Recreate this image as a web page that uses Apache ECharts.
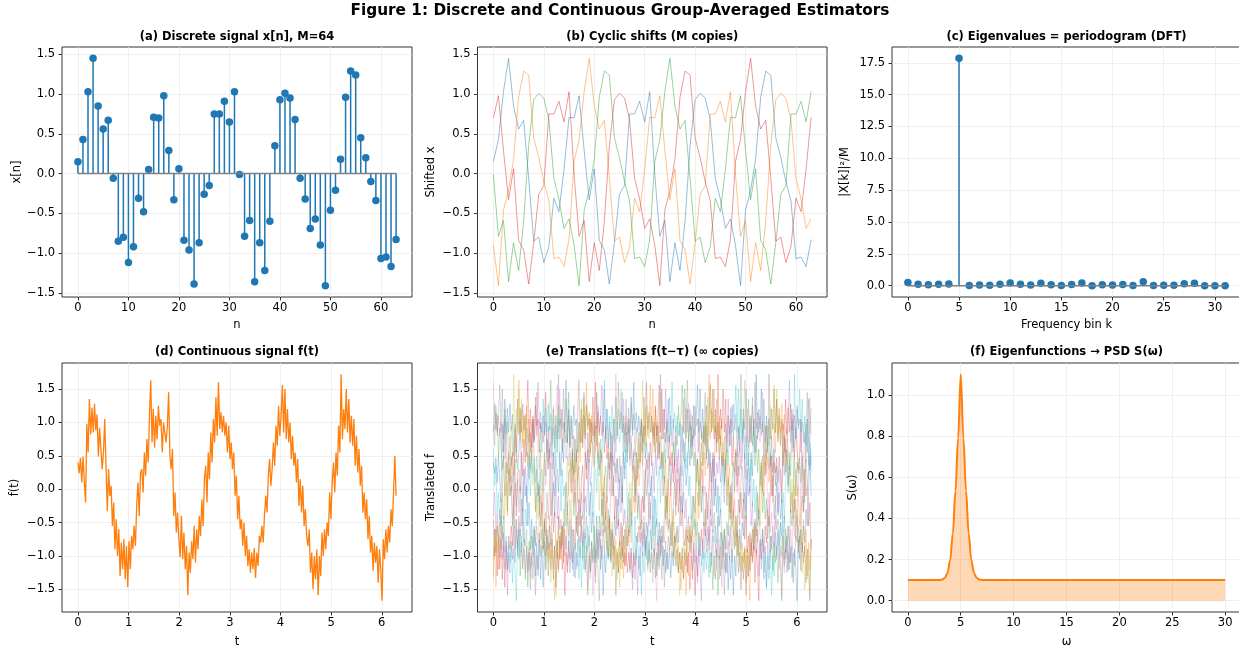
<!DOCTYPE html>
<html><head><meta charset="utf-8">
<script src="https://cdn.jsdelivr.net/npm/echarts@6/dist/echarts.min.js"></script>
<style>html,body{margin:0;padding:0;background:#fff}#c{width:1239px;height:649px}</style>
</head><body><div id="c"></div>
<script>
// ---------- data ----------
const X_N = [0.15,0.43,1.03,1.45,0.85,0.56,0.67,-0.06,-0.85,-0.80,-1.12,-0.92,-0.31,-0.48,0.05,0.71,0.70,0.98,0.29,-0.33,0.06,-0.84,-0.96,-1.39,-0.87,-0.26,-0.15,0.75,0.75,0.91,0.65,1.03,-0.01,-0.79,-0.59,-1.36,-0.87,-1.22,-0.60,0.35,0.93,1.01,0.95,0.68,-0.06,-0.32,-0.69,-0.57,-0.90,-1.41,-0.46,-0.21,0.18,0.96,1.29,1.24,0.45,0.20,-0.10,-0.34,-1.07,-1.05,-1.17,-0.83];
const CYCLIC_SHIFTS = [0,16,32,48];
const PERIODOGRAM = [0.24,0.10,0.07,0.10,0.12,17.85,0.02,0.05,0.03,0.10,0.20,0.10,0.05,0.18,0.06,0.02,0.08,0.20,0.00,0.07,0.05,0.08,0.02,0.31,0.02,0.03,0.03,0.15,0.18,0.00,0.00,0.00];
const T_MAX = 6.2832;
const F_T = [
0.40,0.24,0.47,0.10,0.49,0.12,-0.20,0.98,0.55,1.35,0.82,1.22,0.85,1.28,0.88,1.12,0.49,0.92,0.60,0.30,0.55,1.05,0.35,-0.33,0.30,-0.10,0.05,-0.55,-0.20,-0.90,-0.45,-1.00,-0.60,-1.30,-0.80,-1.20,-0.75,-1.35,-0.85,-1.47,-0.78,-1.20,-0.70,-0.90,-0.55,-0.85,-0.25,0.10,-0.40,0.25,
0.30,-0.05,0.55,0.20,0.75,0.40,1.10,1.63,0.70,1.20,0.62,1.10,0.75,1.25,0.95,1.05,0.55,1.00,0.85,0.70,0.95,1.45,0.50,0.30,0.60,-0.40,-0.05,-0.65,-0.35,-0.75,-1.02,-0.40,-1.05,-0.65,-1.20,-0.85,-1.59,-0.95,-1.25,-0.78,-1.05,-0.55,-1.10,-0.60,-0.90,-0.40,-0.70,-0.15,-0.55,0.15,
0.35,-0.20,0.55,0.15,0.85,0.40,1.05,0.70,1.38,0.80,1.60,0.90,1.15,0.85,1.10,0.80,1.00,0.55,0.95,0.45,0.70,0.30,0.55,-0.10,0.20,-0.45,-0.10,-0.60,-0.45,-0.85,-0.50,-1.00,-0.70,-1.15,-0.90,-1.25,-0.95,-1.20,-0.88,-1.33,-0.95,-1.15,-0.70,-0.80,-0.55,-0.80,-0.40,-0.10,-0.35,0.20,
0.45,0.05,0.30,0.70,0.35,0.95,0.65,1.25,0.80,1.10,1.56,0.85,1.50,0.75,1.20,0.70,1.00,0.45,0.80,0.35,0.55,0.10,0.45,-0.25,0.15,-0.35,0.05,-0.55,-0.30,-0.70,-0.85,-0.60,-1.25,-0.95,-1.50,-1.00,-1.35,-0.90,-1.59,-1.00,-1.30,-0.65,-1.00,-0.60,-0.90,-0.50,-0.70,-0.05,-0.45,0.10,
0.40,-0.05,0.55,0.20,0.95,0.55,1.72,0.75,1.20,0.90,1.50,0.85,1.35,0.70,1.10,0.65,1.05,0.35,0.80,0.25,0.60,0.05,0.35,-0.35,-0.05,-0.45,-0.15,-0.75,-0.40,-0.95,-0.70,-1.22,-0.80,-1.10,-0.85,-1.40,-0.90,-1.20,-1.67,-0.75,-1.05,-0.60,-0.95,-0.55,-0.80,-0.30,-0.55,-0.05,0.50,-0.10];
const TAU_SHIFTS = [0,213,238,220,175,10,140,95,60,30];
const PSD_OMEGA = [0,2.5,3,3.25,3.5,3.75,4,4.25,4.5,4.75,5,5.25,5.5,5.75,6,6.25,6.5,6.75,7,7.5,30];
const PSD_S = [0.1,0.1,0.1005,0.103,0.111,0.135,0.198,0.326,0.533,0.790,1.1,0.790,0.533,0.326,0.198,0.135,0.111,0.103,0.1005,0.1,0.1];

const TICKS_N = [0,10,20,30,40,50,60];
const TICKS_K = [0,5,10,15,20,25,30];
const TICKS_T = [0,1,2,3,4,5,6];
const TICKS_W = [0,5,10,15,20,25,30];
const TICKS_X = [-1.5,-1.0,-0.5,0.0,0.5,1.0,1.5];
const TICKS_P = [0,2.5,5,7.5,10,12.5,15,17.5];
const TICKS_S = [0,0.2,0.4,0.6,0.8,1.0];

const TAB10 = ['#1f77b4','#ff7f0e','#2ca02c','#d62728','#9467bd','#8c564b','#e377c2','#7f7f7f','#bcbd22','#17becf'];

// ---------- layout ----------
const COLS = [{left:62,w:350},{left:477.5,w:349.5},{left:892,w:349}];
const ROWS = [{top:47,h:250},{top:363,h:249}];
const FONT = 'DejaVu Sans';
const FS = 11.5;

function fmt(d){return v=>{const s=Math.abs(v).toFixed(d);return (v<0&&parseFloat(s)!==0?'\u2212':'')+s;};}
const grids=[];
for(let r=0;r<2;r++)for(let c=0;c<3;c++){
  grids.push({left:COLS[c].left,top:ROWS[r].top,width:COLS[c].w,height:ROWS[r].h,
    show:true,borderColor:'#000',borderWidth:0.8,backgroundColor:'transparent',
    containLabel:false,outerBoundsMode:'none'});
}
function axis(gi,min,max,ticks,dec,name,nameGap,isY){
  return {type:'value',gridIndex:gi,min:min,max:max,position:isY?'left':'bottom',
    name:name,nameLocation:'middle',nameGap:nameGap,
    nameTextStyle:{fontFamily:FONT,fontSize:FS,color:'#000'},
    axisLine:{show:false,onZero:false},
    axisTick:{show:true,customValues:ticks,length:3.5,lineStyle:{color:'#000',width:0.8}},
    axisLabel:{customValues:ticks,formatter:fmt(dec),fontFamily:FONT,fontSize:FS,color:'#000',margin:isY?7:5},
    splitLine:{show:true,lineStyle:{color:'#ebebeb',width:0.8}}};
}
const xAxes=[
  axis(0,-3.15,66.15,TICKS_N,0,'n',22,false),
  axis(1,-3.15,66.15,TICKS_N,0,'n',22,false),
  axis(2,-1.55,32.55,TICKS_K,0,'Frequency bin k',22,false),
  axis(3,-0.31416,6.5973,TICKS_T,0,'t',24,false),
  axis(4,-0.31416,6.5973,TICKS_T,0,'t',24,false),
  axis(5,-1.5,31.5,TICKS_W,0,'\u03c9',24,false)];
const yAxes=[
  axis(0,-1.553,1.593,TICKS_X,1,'x[n]',39,true),
  axis(1,-1.553,1.593,TICKS_X,1,'Shifted x',40.5,true),
  axis(2,-0.8925,18.74,TICKS_P,1,'|X[k]|\u00b2/M',41,true),
  axis(3,-1.84,1.89,TICKS_X,1,'f(t)',40.5,true),
  axis(4,-1.84,1.89,TICKS_X,1,'Translated f',40.5,true),
  axis(5,-0.055,1.155,TICKS_S,1,'S(\u03c9)',33,true)];

const series=[];
function stems(gi,vals){
  series.push({type:'custom',xAxisIndex:gi,yAxisIndex:gi,z:2,
    data:vals.map((v,i)=>[i,v]),
    renderItem:(p,api)=>{const a=api.coord([api.value(0),0]),b=api.coord([api.value(0),api.value(1)]);
      return {type:'line',shape:{x1:a[0],y1:a[1],x2:b[0],y2:b[1]},style:{stroke:'#1f77b4',lineWidth:1.5}};}});
  series.push({type:'scatter',xAxisIndex:gi,yAxisIndex:gi,z:3,symbolSize:7.5,
    itemStyle:{color:'#1f77b4',opacity:1},data:vals.map((v,i)=>[i,v])});
  series.push({type:'line',xAxisIndex:gi,yAxisIndex:gi,z:4,showSymbol:false,
    lineStyle:{color:'#808080',width:1.5},data:[[0,0],[vals.length-1,0]]});
}
stems(0,X_N);
const M=X_N.length;
CYCLIC_SHIFTS.forEach((s,k)=>{
  series.push({type:'line',xAxisIndex:1,yAxisIndex:1,showSymbol:false,
    lineStyle:{color:TAB10[k],width:0.8,opacity:0.6},
    data:X_N.map((_,i)=>[i,X_N[((i-s)%M+M)%M]])});
});
stems(2,PERIODOGRAM);
const N=F_T.length;
const tAt=i=>T_MAX*i/(N-1);
series.push({type:'line',xAxisIndex:3,yAxisIndex:3,showSymbol:false,
  lineStyle:{color:'#ff7f0e',width:1.3},data:F_T.map((v,i)=>[tAt(i),v])});
TAU_SHIFTS.forEach((s,k)=>{
  series.push({type:'line',xAxisIndex:4,yAxisIndex:4,showSymbol:false,
    lineStyle:{color:TAB10[k%10],width:0.9,opacity:0.32},
    data:F_T.map((_,i)=>[tAt(i),F_T[((i-s)%N+N)%N]])});
});
series.push({type:'line',xAxisIndex:5,yAxisIndex:5,showSymbol:false,smooth:0.35,smoothMonotone:'x',
  lineStyle:{color:'#ff7f0e',width:2},areaStyle:{color:'#ff7f0e',opacity:0.3,origin:0},
  data:PSD_OMEGA.map((w,i)=>[w,PSD_S[i]])});

const TITLES=['(a) Discrete signal x[n], M=64','(b) Cyclic shifts (M copies)','(c) Eigenvalues = periodogram (DFT)',
  '(d) Continuous signal f(t)','(e) Translations f(t\u2212\u03c4) (\u221e copies)','(f) Eigenfunctions \u2192 PSD S(\u03c9)'];
const graphic=[{type:'text',x:620,y:11,style:{text:'Figure 1: Discrete and Continuous Group-Averaged Estimators',
  fontFamily:FONT,fontSize:15.3,fontWeight:'bold',fill:'#000',align:'center',verticalAlign:'middle'}}];
TITLES.forEach((t,i)=>{const r=Math.floor(i/3),c=i%3;
  const cx = c===2 ? 1066.5 : COLS[c].left+COLS[c].w/2;
  graphic.push({type:'text',x:cx,y:r===0?37.5:352,style:{text:t,fontFamily:FONT,fontSize:FS,fontWeight:'bold',fill:'#000',align:'center',verticalAlign:'middle'}});});

const chart=echarts.init(document.getElementById('c'),null,{renderer:'canvas'});
chart.setOption({animation:false,backgroundColor:'#fff',grid:grids,xAxis:xAxes,yAxis:yAxes,series:series,graphic:graphic});
</script></body></html>
